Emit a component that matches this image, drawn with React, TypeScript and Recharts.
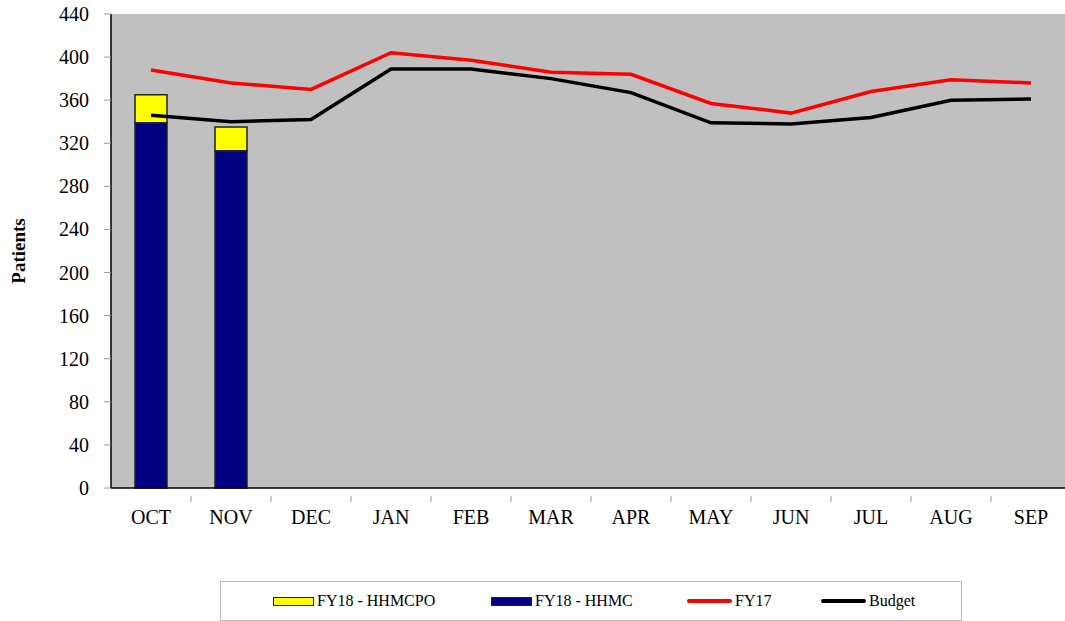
import React from "react";
import { Bar, CartesianGrid, ComposedChart, Line, XAxis, YAxis } from "recharts";

const months = ["OCT", "NOV", "DEC", "JAN", "FEB", "MAR", "APR", "MAY", "JUN", "JUL", "AUG", "SEP"];
const hhmc = [339, 313, null, null, null, null, null, null, null, null, null, null];
const hhmcpo = [26, 22, null, null, null, null, null, null, null, null, null, null];
const fy17 = [388, 376, 370, 404, 397, 386, 384, 357, 348, 368, 379, 376];
const budget = [346, 340, 342, 389, 389, 380, 367, 339, 338, 344, 360, 361];
const yTicks = [0, 40, 80, 120, 160, 200, 240, 280, 320, 360, 400, 440];

const data = months.map((m, i) => ({
  month: m,
  hhmc: hhmc[i],
  hhmcpo: hhmcpo[i],
  fy17: fy17[i],
  budget: budget[i],
}));

const FONT = "Times New Roman, Liberation Serif, DejaVu Serif, serif";

function MonthTick(props: any) {
  const { x, y, payload } = props;
  const half = 80 / 2;
  return (
    <g>
      <line x1={x + half} y1={y} x2={x + half} y2={y + 6} stroke="#999" />
      <text x={x} y={y + 28} textAnchor="middle" fontFamily={FONT} fontSize={20} fill="#000">
        {payload.value}
      </text>
    </g>
  );
}

function ValueTick(props: any) {
  const { x, y, payload } = props;
  return (
    <text x={x} y={y + 7} textAnchor="end" fontFamily={FONT} fontSize={20} fill="#000">
      {payload.value}
    </text>
  );
}

function LegendBox() {
  const item = (swatch: React.ReactNode, label: string, left: number) => (
    <div style={{ position: "absolute", left, top: 0, height: 38, display: "flex", alignItems: "center" }}>
      {swatch}
      <span style={{ fontFamily: FONT, fontSize: 16, marginLeft: 3 }}>{label}</span>
    </div>
  );
  const rect = (c: string) => (
    <div style={{ width: 39, height: 7, background: c, border: "1.5px solid #222" }} />
  );
  const line = (c: string) => <div style={{ width: 45, height: 4, background: c, borderRadius: 2 }} />;
  return (
    <div
      style={{
        position: "absolute",
        left: 220,
        top: 581,
        width: 740,
        height: 38,
        border: "1px solid #bbb",
        background: "#fff",
      }}
    >
      {item(rect("#FFFF00"), "FY18 - HHMCPO", 52)}
      {item(rect("#000080"), "FY18 - HHMC", 270)}
      {item(line("#FF0000"), "FY17", 466)}
      {item(line("#000000"), "Budget", 600)}
    </div>
  );
}

export default function App() {
  return (
    <div
      style={{
        position: "fixed",
        left: 0,
        top: 0,
        width: 1065,
        height: 621,
        background: "#fff",
        overflow: "hidden",
        fontFamily: FONT,
      }}
    >
      <ComposedChart
        width={1072}
        height={621}
        data={data}
        margin={{ top: 14, right: 1, bottom: 93, left: 0 }}
        barGap={0}
        style={{ fontFamily: FONT }}
      >
        <CartesianGrid horizontal={false} vertical={false} fill="#C0C0C0" stroke="none" />
        <XAxis
          dataKey="month"
          height={40}
          axisLine={{ stroke: "#000", strokeWidth: 1.5 }}
          tickLine={false}
          tick={<MonthTick />}
          interval={0}
        />
        <YAxis
          width={111}
          domain={[0, 440]}
          ticks={yTicks}
          interval={0}
          axisLine={{ stroke: "#000", strokeWidth: 1.5 }}
          tickLine={{ stroke: "#999" }}
          tickSize={7}
          tickMargin={15}
          tick={<ValueTick />}
          label={{
            value: "Patients",
            angle: -90,
            position: "insideLeft",
            offset: 18,
            style: { fontFamily: FONT, fontSize: 19, fontWeight: "bold", fill: "#000", textAnchor: "middle" },
          }}
        />
        <Bar dataKey="hhmc" name="FY18 - HHMC" stackId="a" fill="#000080" stroke="#222" strokeWidth={1.5} barSize={32} isAnimationActive={false} />
        <Bar dataKey="hhmcpo" name="FY18 - HHMCPO" stackId="a" fill="#FFFF00" stroke="#222" strokeWidth={1.5} barSize={32} isAnimationActive={false} />
        <Line dataKey="fy17" name="FY17" stroke="#FF0000" strokeWidth={3.5} dot={false} isAnimationActive={false} />
        <Line dataKey="budget" name="Budget" stroke="#000" strokeWidth={3.5} dot={false} isAnimationActive={false} />
      </ComposedChart>
      <LegendBox />
    </div>
  );
}
